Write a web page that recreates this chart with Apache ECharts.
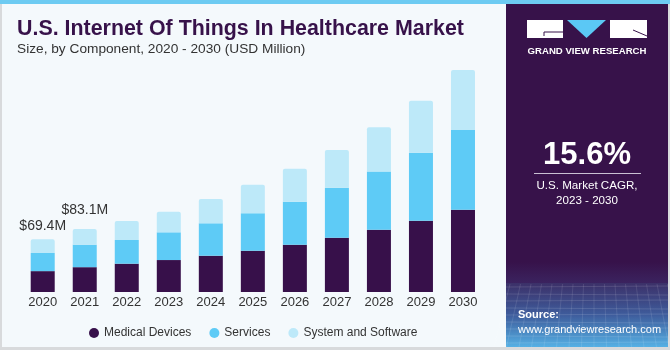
<!DOCTYPE html>
<html>
<head>
<meta charset="utf-8">
<script src="https://cdn.jsdelivr.net/npm/echarts@6/dist/echarts.min.js"></script>
<style>
html,body{margin:0;padding:0;background:#f4f9fc;}
#c{width:670px;height:350px;}
</style>
</head>
<body>
<div id="c"></div>
<script>
const years = ['2020','2021','2022','2023','2024','2025','2026','2027','2028','2029','2030'];
const medicalDevices = [27.5, 32.7, 37.3, 42.1, 47.8, 54.4, 62.3, 71.5, 82.0, 93.9, 108.4];
const services = [24.0, 29.6, 31.2, 36.5, 42.7, 49.3, 56.6, 65.9, 76.9, 89.6, 105.0];
const systemSoftware = [17.9, 20.8, 25.0, 27.1, 32.0, 37.7, 43.5, 49.7, 58.3, 68.5, 79.0];
const labeledYears = ['2020', '2021'];
const totalLabels = ['$69.4M', '$83.1M'];

const chart = echarts.init(document.getElementById('c'), null, {renderer: 'canvas'});
const F = '"Liberation Sans", Arial, sans-serif';
const labelDistances = [6, 12];

const sysData = systemSoftware.map((v, i) => {
  const k = labeledYears.indexOf(years[i]);
  if (k < 0) return v;
  return {value: v, label: {show: true, position: 'top', distance: labelDistances[k],
    formatter: totalLabels[k], fontFamily: F, fontSize: 14, color: '#333'}};
});

const panelX = 506;
const graphics = [
  {type: 'rect', shape: {x: 0, y: 0, width: 670, height: 350}, style: {fill: '#f4f9fc'}, z: -10},
  {type: 'rect', shape: {x: 0, y: 0, width: 2, height: 350}, style: {fill: '#d8dadc'}, z: -9},
  {type: 'rect', shape: {x: 0, y: 347, width: 670, height: 3}, style: {fill: '#d8dadc'}, z: -9},
  {type: 'rect', shape: {x: 0, y: 0, width: 670, height: 4}, style: {fill: '#6dcbf2'}, z: 5},
  {type: 'rect', shape: {x: panelX, y: 4, width: 162, height: 343}, style: {fill: '#37124a'}, z: 1},
  {type: 'rect', shape: {x: panelX, y: 262, width: 162, height: 22},
    style: {fill: new echarts.graphic.LinearGradient(0, 0, 0, 1, [{offset: 0, color: '#37124a'}, {offset: 1, color: '#3b2460'}])}, z: 1},
  {type: 'rect', shape: {x: panelX, y: 283, width: 162, height: 64},
    style: {fill: new echarts.graphic.LinearGradient(0, 0, 0, 1, [{offset: 0, color: '#3c3068'}, {offset: 0.5, color: '#3e5c9c'}, {offset: 1, color: '#55b0e4'}])}, z: 1},
  {type: 'rect', shape: {x: 668, y: 0, width: 2, height: 350}, style: {fill: '#d8dadc'}, z: 2},
  // logo
  {type: 'rect', shape: {x: 527, y: 20, width: 36, height: 18}, style: {fill: '#ffffff'}, z: 3},
  {type: 'polyline', shape: {points: [[563, 32], [544, 32], [544, 36]]}, style: {stroke: '#37124a', lineWidth: 1, fill: null}, z: 4},
  {type: 'polygon', shape: {points: [[567, 20], [606, 20], [586.5, 38]]}, style: {fill: '#5bc8f5'}, z: 3},
  {type: 'rect', shape: {x: 610, y: 20, width: 37, height: 18}, style: {fill: '#ffffff'}, z: 3},
  {type: 'line', shape: {x1: 633, y1: 30, x2: 647, y2: 36}, style: {stroke: '#37124a', lineWidth: 1}, z: 4},
  {type: 'text', x: 587, y: 51, style: {text: 'GRAND VIEW RESEARCH', font: 'bold 9.6px ' + F, fill: '#ffffff', align: 'center', verticalAlign: 'middle'}, z: 4},
  {type: 'text', x: 587, y: 155, style: {text: '15.6%', font: 'bold 31px ' + F, fill: '#ffffff', align: 'center', verticalAlign: 'middle'}, z: 4},
  {type: 'rect', shape: {x: 534, y: 173, width: 107, height: 1}, style: {fill: '#c9c0d3'}, z: 4},
  {type: 'text', x: 587, y: 186, style: {text: 'U.S. Market CAGR,', font: '11.6px ' + F, fill: '#ffffff', align: 'center', verticalAlign: 'middle'}, z: 4},
  {type: 'text', x: 587, y: 201, style: {text: '2023 - 2030', font: '11.6px ' + F, fill: '#ffffff', align: 'center', verticalAlign: 'middle'}, z: 4},
  {type: 'text', x: 518, y: 315, style: {text: 'Source:', font: 'bold 11px ' + F, fill: '#ffffff', align: 'left', verticalAlign: 'middle'}, z: 4},
  {type: 'text', x: 518, y: 330, style: {text: 'www.grandviewresearch.com', font: '11px ' + F, fill: '#ffffff', align: 'left', verticalAlign: 'middle'}, z: 4},
  // titles
  {type: 'text', x: 17, y: 29, style: {text: 'U.S. Internet Of Things In Healthcare Market', font: 'bold 21.4px ' + F, fill: '#37124a', align: 'left', verticalAlign: 'middle'}, z: 4},
  {type: 'text', x: 17, y: 49, style: {text: 'Size, by Component, 2020 - 2030 (USD Million)', font: '13.7px ' + F, fill: '#333333', align: 'left', verticalAlign: 'middle'}, z: 4}
];
// faint grid texture in panel bottom
for (let i = 0; i < 9; i++) {
  const yy = 287 + i * 7;
  graphics.push({type: 'line', shape: {x1: panelX, y1: yy, x2: 668, y2: yy + (i % 2 ? 1 : -1)}, style: {stroke: 'rgba(255,255,255,0.12)', lineWidth: 1}, z: 2});
}
for (let i = 0; i < 16; i++) {
  const xx = panelX + 4 + i * 10.5;
  graphics.push({type: 'line', shape: {x1: xx, y1: 284, x2: xx + (i - 8) * 2, y2: 347}, style: {stroke: 'rgba(255,255,255,0.10)', lineWidth: 1}, z: 2});
}

chart.setOption({
  animation: false,
  backgroundColor: 'transparent',
  textStyle: {fontFamily: F},
  graphic: graphics,
  grid: {left: 21.7, width: 462.3, top: 41.5, bottom: 58, containLabel: false},
  legend: {
    data: ['Medical Devices', 'Services', 'System and Software'],
    left: 84, top: 322, icon: 'circle', itemWidth: 10, itemHeight: 10, itemGap: 18,
    textStyle: {fontFamily: F, fontSize: 12, color: '#333'}
  },
  xAxis: {
    type: 'category', data: years,
    axisLine: {show: false}, axisTick: {show: false},
    axisLabel: {fontFamily: F, fontSize: 13, color: '#333', margin: 4}
  },
  yAxis: {type: 'value', min: 0, max: 330, show: false, splitLine: {show: false}},
  series: [
    {name: 'Medical Devices', type: 'bar', stack: 'a', data: medicalDevices, barWidth: 24,
      itemStyle: {color: '#37104a'}},
    {name: 'Services', type: 'bar', stack: 'a', data: services, barWidth: 24,
      itemStyle: {color: '#5ecbf6'}},
    {name: 'System and Software', type: 'bar', stack: 'a', data: sysData, barWidth: 24,
      itemStyle: {color: '#bde9f9', borderRadius: [2, 2, 0, 0]}}
  ]
});
</script>
</body>
</html>
